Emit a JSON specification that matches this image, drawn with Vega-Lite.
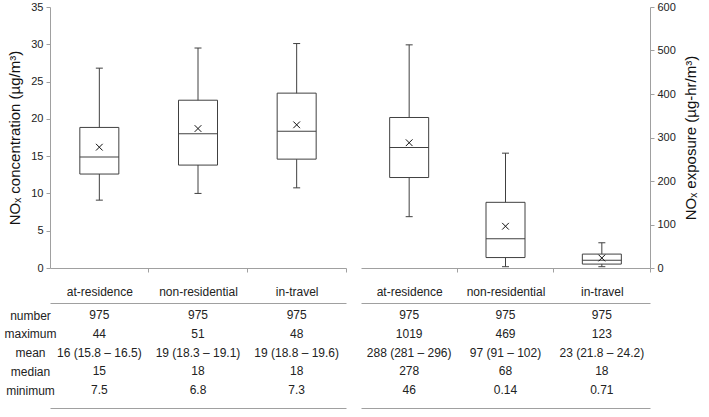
{
  "$schema": "https://vega.github.io/schema/vega-lite/v6.json",
  "padding": {"left": 3, "top": 1, "right": 5, "bottom": 5},
  "background": "white",
  "config": {
    "font": "Liberation Sans",
    "view": {"stroke": null},
    "axis": {"labelFont": "Liberation Sans", "titleFont": "Liberation Sans", "labelColor": "#222", "titleColor": "#111", "domainColor": "#a0a0a0", "tickColor": "#a0a0a0", "grid": false, "labelOverlap": false},
    "axisY": {"labelOverlap": false}
  },
  "datasets": {
    "boxes": [
      {"panel": "conc", "cat": "at-residence", "lo": 9.1, "q1": 12.6, "med": 14.9, "q3": 18.85, "hi": 26.8, "mean": 16.2},
      {"panel": "conc", "cat": "non-residential", "lo": 10.0, "q1": 13.8, "med": 18.0, "q3": 22.5, "hi": 29.5, "mean": 18.7},
      {"panel": "conc", "cat": "in-travel", "lo": 10.75, "q1": 14.6, "med": 18.35, "q3": 23.45, "hi": 30.1, "mean": 19.2},
      {"panel": "exp", "cat": "at-residence", "lo": 118, "q1": 208, "med": 277, "q3": 346, "hi": 513, "mean": 288},
      {"panel": "exp", "cat": "non-residential", "lo": 3, "q1": 24, "med": 67, "q3": 151, "hi": 264, "mean": 96},
      {"panel": "exp", "cat": "in-travel", "lo": 3, "q1": 9, "med": 18, "q3": 32, "hi": 58, "mean": 23}
    ],
    "table": [
      {"panel": "conc", "cat": "at-residence", "stat": "number", "value": "975"},
      {"panel": "conc", "cat": "non-residential", "stat": "number", "value": "975"},
      {"panel": "conc", "cat": "in-travel", "stat": "number", "value": "975"},
      {"panel": "exp", "cat": "at-residence", "stat": "number", "value": "975"},
      {"panel": "exp", "cat": "non-residential", "stat": "number", "value": "975"},
      {"panel": "exp", "cat": "in-travel", "stat": "number", "value": "975"},
      {"panel": "conc", "cat": "at-residence", "stat": "maximum", "value": "44"},
      {"panel": "conc", "cat": "non-residential", "stat": "maximum", "value": "51"},
      {"panel": "conc", "cat": "in-travel", "stat": "maximum", "value": "48"},
      {"panel": "exp", "cat": "at-residence", "stat": "maximum", "value": "1019"},
      {"panel": "exp", "cat": "non-residential", "stat": "maximum", "value": "469"},
      {"panel": "exp", "cat": "in-travel", "stat": "maximum", "value": "123"},
      {"panel": "conc", "cat": "at-residence", "stat": "mean", "value": "16 (15.8 – 16.5)"},
      {"panel": "conc", "cat": "non-residential", "stat": "mean", "value": "19 (18.3 – 19.1)"},
      {"panel": "conc", "cat": "in-travel", "stat": "mean", "value": "19 (18.8 – 19.6)"},
      {"panel": "exp", "cat": "at-residence", "stat": "mean", "value": "288 (281 – 296)"},
      {"panel": "exp", "cat": "non-residential", "stat": "mean", "value": "97 (91 – 102)"},
      {"panel": "exp", "cat": "in-travel", "stat": "mean", "value": "23 (21.8 – 24.2)"},
      {"panel": "conc", "cat": "at-residence", "stat": "median", "value": "15"},
      {"panel": "conc", "cat": "non-residential", "stat": "median", "value": "18"},
      {"panel": "conc", "cat": "in-travel", "stat": "median", "value": "18"},
      {"panel": "exp", "cat": "at-residence", "stat": "median", "value": "278"},
      {"panel": "exp", "cat": "non-residential", "stat": "median", "value": "68"},
      {"panel": "exp", "cat": "in-travel", "stat": "median", "value": "18"},
      {"panel": "conc", "cat": "at-residence", "stat": "minimum", "value": "7.5"},
      {"panel": "conc", "cat": "non-residential", "stat": "minimum", "value": "6.8"},
      {"panel": "conc", "cat": "in-travel", "stat": "minimum", "value": "7.3"},
      {"panel": "exp", "cat": "at-residence", "stat": "minimum", "value": "46"},
      {"panel": "exp", "cat": "non-residential", "stat": "minimum", "value": "0.14"},
      {"panel": "exp", "cat": "in-travel", "stat": "minimum", "value": "0.71"}
    ]
  },
  "columns": 2,
  "spacing": {"row": 35, "column": 15},
  "bounds": "flush",
  "concat": [
    {
      "width": 296,
      "height": 261,
      "data": {"name": "boxes"},
      "transform": [{"filter": "datum.panel == 'conc'"}],
      "encoding": {
        "x": {"field": "cat", "type": "nominal", "sort": ["at-residence", "non-residential", "in-travel"], "scale": {"type": "band", "paddingInner": 0, "paddingOuter": 0},
          "axis": {"title": null, "labels": false, "ticks": true, "tickSize": 4, "bandPosition": 1}}
      },
      "layer": [
        {"mark": {"type": "rule", "color": "#404040", "strokeWidth": 1},
         "encoding": {"y": {"field": "lo", "type": "quantitative", "scale": {"domain": [0, 35], "nice": false},
           "axis": {"title": "NOₓ concentration (µg/m³)", "titleFontSize": 15, "titleFontWeight": "normal", "titlePadding": 8, "values": [0, 5, 10, 15, 20, 25, 30, 35], "tickCount": 8, "labelOverlap": false, "labelFontSize": 11, "tickSize": 4, "labelPadding": 3}},
           "y2": {"field": "hi"}}},
        {"mark": {"type": "tick", "color": "#404040", "size": 7, "thickness": 1, "opacity": 1},
         "encoding": {"y": {"field": "lo", "type": "quantitative"}}},
        {"mark": {"type": "tick", "color": "#404040", "size": 7, "thickness": 1, "opacity": 1},
         "encoding": {"y": {"field": "hi", "type": "quantitative"}}},
        {"mark": {"type": "bar", "fill": "white", "stroke": "#404040", "strokeWidth": 1, "size": 39},
         "encoding": {"y": {"field": "q1", "type": "quantitative"}, "y2": {"field": "q3"}}},
        {"mark": {"type": "tick", "color": "#404040", "size": 39, "thickness": 1, "opacity": 1},
         "encoding": {"y": {"field": "med", "type": "quantitative"}}},
        {"mark": {"type": "point", "shape": "M-1,-1L1,1M-1,1L1,-1", "filled": false, "stroke": "#111", "strokeWidth": 1, "size": 45, "opacity": 1},
         "encoding": {"y": {"field": "mean", "type": "quantitative"}}}
      ]
    },
    {
      "width": 289,
      "height": 261,
      "data": {"name": "boxes"},
      "transform": [{"filter": "datum.panel == 'exp'"}],
      "encoding": {
        "x": {"field": "cat", "type": "nominal", "sort": ["at-residence", "non-residential", "in-travel"], "scale": {"type": "band", "paddingInner": 0, "paddingOuter": 0},
          "axis": {"title": null, "labels": false, "ticks": true, "tickSize": 4, "bandPosition": 1}}
      },
      "layer": [
        {"mark": {"type": "rule", "color": "#404040", "strokeWidth": 1},
         "encoding": {"y": {"field": "lo", "type": "quantitative", "scale": {"domain": [0, 600], "nice": false},
           "axis": {"orient": "right", "title": "NOₓ exposure (µg-hr/m³)", "titleAngle": 270, "titleBaseline": "top", "titleFontSize": 15, "titleFontWeight": "normal", "titlePadding": 8, "values": [0, 100, 200, 300, 400, 500, 600], "labelOverlap": false, "labelFontSize": 11, "tickSize": 4, "labelPadding": 3}},
           "y2": {"field": "hi"}}},
        {"mark": {"type": "tick", "color": "#404040", "size": 7, "thickness": 1, "opacity": 1},
         "encoding": {"y": {"field": "lo", "type": "quantitative"}}},
        {"mark": {"type": "tick", "color": "#404040", "size": 7, "thickness": 1, "opacity": 1},
         "encoding": {"y": {"field": "hi", "type": "quantitative"}}},
        {"mark": {"type": "bar", "fill": "white", "stroke": "#404040", "strokeWidth": 1, "size": 39},
         "encoding": {"y": {"field": "q1", "type": "quantitative"}, "y2": {"field": "q3"}}},
        {"mark": {"type": "tick", "color": "#404040", "size": 39, "thickness": 1, "opacity": 1},
         "encoding": {"y": {"field": "med", "type": "quantitative"}}},
        {"mark": {"type": "point", "shape": "M-1,-1L1,1M-1,1L1,-1", "filled": false, "stroke": "#111", "strokeWidth": 1, "size": 45, "opacity": 1},
         "encoding": {"y": {"field": "mean", "type": "quantitative"}}}
      ]
    },
    {
      "width": 296,
      "height": 105,
      "data": {"name": "table"},
      "transform": [{"filter": "datum.panel == 'conc'"}],
      "layer": [
        {"mark": {"type": "text", "fontSize": 12, "color": "#222"},
         "encoding": {
           "x": {"field": "cat", "type": "nominal", "sort": ["at-residence", "non-residential", "in-travel"], "scale": {"type": "point", "padding": 0.5},
             "axis": {"orient": "top", "title": null, "ticks": false, "labelPadding": 5, "labelFontSize": 12, "labelAngle": 0}},
           "y": {"field": "stat", "type": "nominal", "sort": ["number", "maximum", "mean", "median", "minimum"], "scale": {"type": "point", "padding": 0.8, "align": 0.4},
             "axis": {"title": null, "ticks": false, "domain": false, "labelAlign": "center", "labelPadding": 20, "labelFontSize": 12}},
           "text": {"field": "value"}
         }},
        {"mark": {"type": "text", "opacity": 0},
         "encoding": {
           "x": {"field": "cat", "type": "nominal", "sort": ["at-residence", "non-residential", "in-travel"],
             "axis": {"orient": "bottom", "title": null, "labels": false, "ticks": false}},
           "text": {"value": ""}
         }}
      ],
      "resolve": {"axis": {"x": "independent"}}
    },
    {
      "width": 289,
      "height": 105,
      "data": {"name": "table"},
      "transform": [{"filter": "datum.panel == 'exp'"}],
      "layer": [
        {"mark": {"type": "text", "fontSize": 12, "color": "#222"},
         "encoding": {
           "x": {"field": "cat", "type": "nominal", "sort": ["at-residence", "non-residential", "in-travel"], "scale": {"type": "point", "padding": 0.5},
             "axis": {"orient": "top", "title": null, "ticks": false, "labelPadding": 5, "labelFontSize": 12, "labelAngle": 0}},
           "y": {"field": "stat", "type": "nominal", "sort": ["number", "maximum", "mean", "median", "minimum"], "scale": {"type": "point", "padding": 0.8, "align": 0.4}, "axis": null},
           "text": {"field": "value"}
         }},
        {"mark": {"type": "text", "opacity": 0},
         "encoding": {
           "x": {"field": "cat", "type": "nominal", "sort": ["at-residence", "non-residential", "in-travel"],
             "axis": {"orient": "bottom", "title": null, "labels": false, "ticks": false}},
           "text": {"value": ""}
         }}
      ],
      "resolve": {"axis": {"x": "independent"}}
    }
  ]
}
